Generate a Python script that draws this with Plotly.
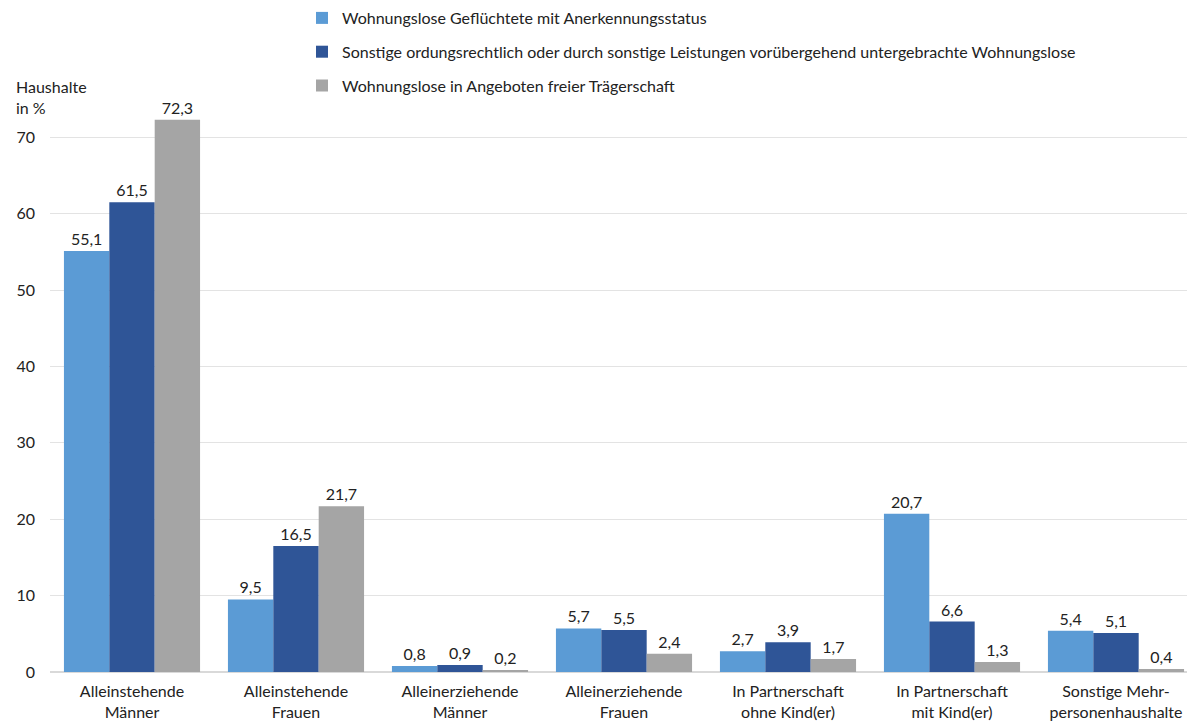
import plotly.graph_objects as go

categories = ["Alleinstehende<br>Männer", "Alleinstehende<br>Frauen", "Alleinerziehende<br>Männer",
              "Alleinerziehende<br>Frauen", "In Partnerschaft<br>ohne Kind(er)", "In Partnerschaft<br>mit Kind(er)",
              "Sonstige Mehr-<br>personenhaushalte"]

series_names = ["Wohnungslose Geflüchtete mit Anerkennungsstatus",
                "Sonstige ordungsrechtlich oder durch sonstige Leistungen vorübergehend untergebrachte Wohnungslose",
                "Wohnungslose in Angeboten freier Trägerschaft"]

gefluechtete = [55.1, 9.5, 0.8, 5.7, 2.7, 20.7, 5.4]
sonstige = [61.5, 16.5, 0.9, 5.5, 3.9, 6.6, 5.1]
freie_traeger = [72.3, 21.7, 0.2, 2.4, 1.7, 1.3, 0.4]

colors = ["#5B9BD5", "#2F5597", "#A5A5A5"]
font = "Lato, Noto Sans, sans-serif"

fig = go.Figure()
for i, (name, vals) in enumerate(zip(series_names, [gefluechtete, sonstige, freie_traeger])):
    fig.add_trace(go.Bar(
        x=categories, y=vals, name=name, legendgroup=str(i),
        marker=dict(color=colors[i], line=dict(width=0)),
        text=vals, texttemplate="%{y:.1f}", textposition="outside",
        textfont=dict(size=16, color="#222222"), cliponaxis=False,
    ))

fig.update_layout(
    width=1195, height=724,
    barmode="group", bargap=0.17, bargroupgap=0,
    separators=",.",
    uniformtext=dict(minsize=16, mode="show"),
    plot_bgcolor="white", paper_bgcolor="white",
    font=dict(family=font, size=16, color="#222222"),
    margin=dict(l=42, r=5, t=91, b=60, autoexpand=False),
    showlegend=True,
    legend=dict(xref="container", yref="paper", x=294 / 1195, y=1 + 98 / 573,
                xanchor="left", yanchor="top", orientation="v",
                font=dict(size=16), tracegroupgap=10, itemwidth=30),
    xaxis=dict(showline=False, ticks="", tickfont=dict(size=16), tickangle=0, automargin=False,
               ticklabelstandoff=8),
    yaxis=dict(range=[0, 75], tickvals=[0, 10, 20, 30, 40, 50, 60, 70],
               showgrid=True, gridcolor="#E3E3E3", zeroline=True, zerolinecolor="#D9D9D9",
               ticks="", tickfont=dict(size=16), ticklabelstandoff=14, automargin=False),
    annotations=[dict(text="Haushalte<br>in %", xref="paper", yref="paper",
                      x=-36 / 1148, y=1 + 24 / 573, xanchor="left", yanchor="top",
                      align="left", showarrow=False, font=dict(size=16))],
)

fig.write_html("out.html")
